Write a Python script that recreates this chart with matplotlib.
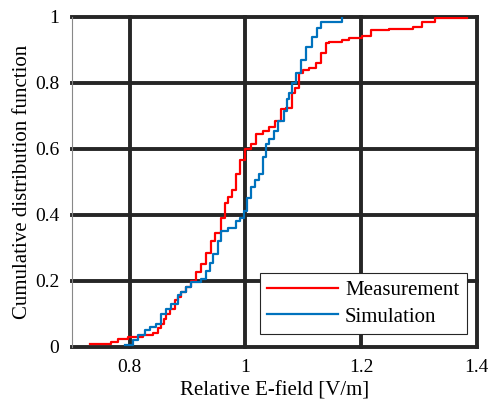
import numpy as np
import matplotlib
matplotlib.use('Agg')
import matplotlib.pyplot as plt

plt.rcParams['font.family'] = ['Liberation Serif', 'DejaVu Serif']

# step curve vertices (x = relative E-field, y = CDF)
meas_x = [0.732, 0.767, 0.779, 0.797, 0.823, 0.840, 0.849, 0.854, 0.860, 0.863,
          0.870, 0.878, 0.884, 0.889, 0.898, 0.906, 0.915, 0.923, 0.932, 0.941,
          0.948, 0.957, 0.958, 0.965, 0.970, 0.976, 0.983, 0.991, 1.000, 1.009,
          1.019, 1.030, 1.040, 1.052, 1.061, 1.070, 1.080, 1.086, 1.092, 1.100,
          1.110, 1.122, 1.130, 1.139, 1.144, 1.167, 1.179, 1.202, 1.217, 1.249,
          1.289, 1.306, 1.327, 1.383]
meas_y = [0.007, 0.015, 0.022, 0.028, 0.035, 0.042, 0.055, 0.070, 0.085, 0.100,
          0.115, 0.140, 0.150, 0.165, 0.180, 0.200, 0.225, 0.250, 0.285, 0.320,
          0.345, 0.350, 0.390, 0.435, 0.455, 0.475, 0.525, 0.565, 0.600, 0.615,
          0.645, 0.655, 0.665, 0.685, 0.720, 0.725, 0.770, 0.785, 0.830, 0.840,
          0.845, 0.860, 0.890, 0.920, 0.925, 0.930, 0.937, 0.943, 0.960, 0.963,
          0.970, 0.985, 0.997, 0.997]

sim_x = [0.791, 0.805, 0.814, 0.826, 0.835, 0.845, 0.854, 0.862, 0.871, 0.883,
         0.889, 0.898, 0.906, 0.923, 0.932, 0.938, 0.944, 0.953, 0.958, 0.970,
         0.983, 0.990, 0.997, 1.002, 1.010, 1.017, 1.023, 1.031, 1.036, 1.040,
         1.049, 1.057, 1.066, 1.072, 1.075, 1.081, 1.087, 1.096, 1.105, 1.115,
         1.123, 1.130, 1.166, 1.167]
sim_y = [0.005, 0.020, 0.035, 0.050, 0.060, 0.070, 0.100, 0.115, 0.130, 0.155,
         0.165, 0.180, 0.195, 0.205, 0.230, 0.255, 0.280, 0.320, 0.350, 0.360,
         0.380, 0.390, 0.410, 0.450, 0.485, 0.505, 0.525, 0.575, 0.615, 0.630,
         0.655, 0.685, 0.715, 0.750, 0.770, 0.800, 0.830, 0.870, 0.910, 0.940,
         0.965, 0.985, 0.985, 1.000]

xticks = [0.8, 1.0, 1.2, 1.4]
xtick_labels = ['0.8', '1', '1.2', '1.4']
yticks = [0, 0.2, 0.4, 0.6, 0.8, 1.0]
ytick_labels = ['0', '0.2', '0.4', '0.6', '0.8', '1']

fig = plt.figure(figsize=(4.89, 4.03), dpi=100)
ax = fig.add_axes([0.147, 0.140, 0.828, 0.818])

grid_col = '#262626'
for xv in xticks:
    ax.axvline(xv, color=grid_col, lw=2.8, zorder=1, clip_on=False)
for yv in yticks:
    ax.axhline(yv, color=grid_col, lw=2.8, zorder=1, clip_on=False)

ax.step(meas_x, meas_y, where='post', color='#ff0000', lw=1.6, zorder=3,
        label='Measurement')
ax.step(sim_x, sim_y, where='post', color='#0072bd', lw=1.6, zorder=3,
        label='Simulation')

ax.set_xlim(0.7, 1.4)
ax.set_ylim(0, 1)
ax.set_xticks(xticks)
ax.set_xticklabels(xtick_labels)
ax.set_yticks(yticks)
ax.set_yticklabels(ytick_labels)
ax.tick_params(length=0, labelsize=14)
ax.tick_params(axis='x', pad=9)
ax.tick_params(axis='y', pad=9)
for s in ['top', 'right', 'bottom']:
    ax.spines[s].set_visible(False)
ax.spines['left'].set_color('#888888')
ax.spines['left'].set_linewidth(0.8)

ax.set_xlabel('Relative E-field [V/m]', fontsize=15, labelpad=4)
ax.set_ylabel('Cumulative distribution function', fontsize=15, labelpad=2)

leg = ax.legend(loc='lower right', bbox_to_anchor=(0.975, 0.038), fontsize=15,
                frameon=True, fancybox=False, handlelength=3.4,
                borderpad=0.35, labelspacing=0.35, handletextpad=0.35,
                borderaxespad=0)
leg.get_frame().set_edgecolor('#262626')
leg.get_frame().set_linewidth(0.8)
leg.get_frame().set_alpha(1)
leg.set_zorder(5)

fig.savefig('out.png', dpi=100)
